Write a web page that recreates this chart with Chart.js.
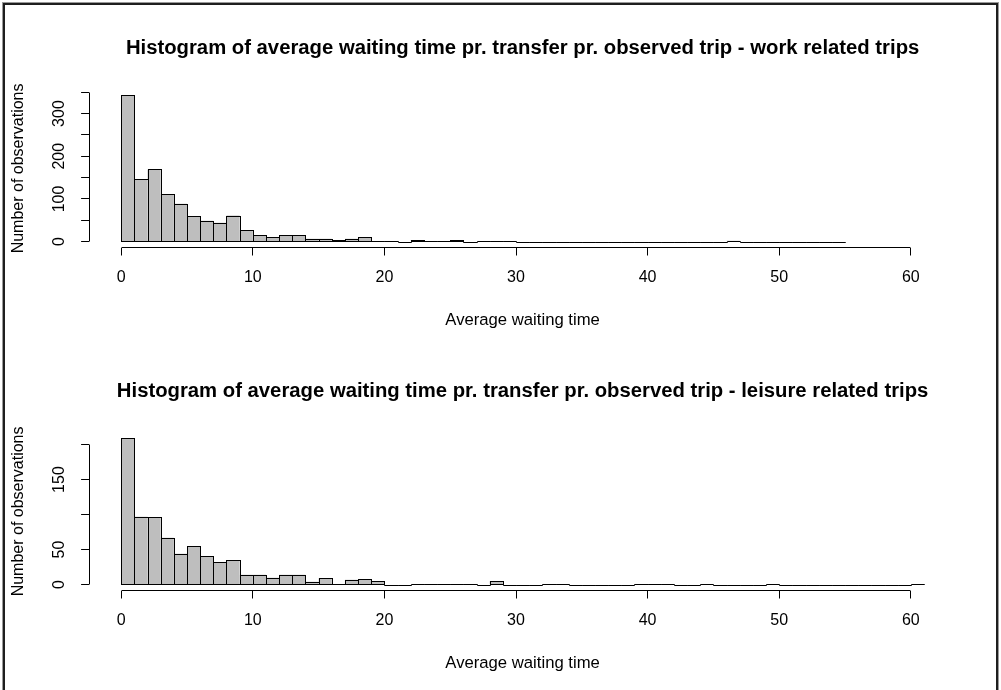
<!DOCTYPE html>
<html>
<head>
<meta charset="utf-8">
<script src="https://cdn.jsdelivr.net/npm/chart.js@4.4.0/dist/chart.umd.min.js"></script>
<style>
  body { margin: 0; background: #fff; }
  #wrap { position: relative; width: 1001px; height: 690px; overflow: hidden; }
  #frame {
    position: absolute; left: 3px; top: 3px; width: 995px; height: 720px;
    box-sizing: border-box; border: 2px solid #1e1e1e; box-shadow: 0 0 0 1px #9a9a9a;
  }
  canvas { position: absolute; left: 0; }
</style>
</head>
<body>
<div id="wrap">
  <div id="frame"></div>
  <canvas id="work" width="1001" height="345" style="top:0"></canvas>
  <canvas id="leisure" width="1001" height="345" style="top:343px"></canvas>
</div>
<script>
// counts per 1-minute bin, first bin is [0,1)
const binWidth = 1;
const workCounts = [
  343, 147, 169, 111, 89, 59, 49, 44, 61, 27,
  15, 10, 15, 15, 7, 7, 4, 7, 10, 1,
  1, 0, 4, 1, 1, 4, 0, 1, 1, 1,
  0, 0, 0, 0, 0, 0, 0, 0, 0, 0,
  0, 0, 0, 0, 0, 0, 2, 0, 0, 0,
  0, 0, 0, 0, 0
];
const leisureCounts = [
  209, 97, 96, 67, 44, 55, 41, 32, 35, 14,
  14, 10, 14, 14, 4, 9, 1, 7, 8, 5,
  0, 0, 1, 1, 1, 1, 1, 0, 5, 0,
  0, 0, 1, 1, 0, 0, 0, 0, 0, 1,
  1, 1, 0, 0, 1, 0, 0, 0, 0, 1,
  0, 0, 0, 0, 0, 0, 0, 0, 0, 0,
  1
];

const xLimits = [0, 61];
const xTicks = [0, 10, 20, 30, 40, 50, 60];
const workYTicks = [0, 50, 100, 150, 200, 250, 300, 350];
const workYLabels = [0, 100, 200, 300];
const leisureYTicks = [0, 50, 100, 150, 200];
const leisureYLabels = [0, 50, 150];

const workTitle = 'Histogram of average waiting time pr. transfer pr. observed trip - work related trips';
const leisureTitle = 'Histogram of average waiting time pr. transfer pr. observed trip - leisure related trips';
const xTitle = 'Average waiting time';
const yTitle = 'Number of observations';

const family = "'Liberation Sans', Arial, sans-serif";

// black outline round every bin, zero-count bins end up as a flat line
const barOutline = {
  id: 'barOutline',
  afterDatasetsDraw(chart) {
    const ctx = chart.ctx;
    ctx.save();
    ctx.strokeStyle = '#000';
    ctx.lineWidth = 1;
    chart.getDatasetMeta(0).data.forEach(bar => {
      const {x, y, base, width} = bar.getProps(['x', 'y', 'base', 'width'], true);
      const l = Math.round(x - width / 2) + 0.5;
      const r = Math.round(x + width / 2) + 0.5;
      const t = Math.round(y) + 0.5;
      const b = Math.round(base) + 0.5;
      ctx.strokeRect(l, t, r - l, b - t);
    });
    ctx.restore();
  }
};

// axis lines only between the first and last tick
const shortAxes = {
  id: 'shortAxes',
  afterDraw(chart) {
    const {ctx, chartArea, scales: {x, y}} = chart;
    const xs = x.ticks, ys = y.ticks;
    const ax = Math.round(chartArea.left - 0.5) + 0.5;
    const ay = Math.round(chartArea.bottom - 0.5) + 0.5;
    ctx.save();
    ctx.strokeStyle = '#000';
    ctx.lineWidth = 1;
    ctx.beginPath();
    ctx.moveTo(Math.round(x.getPixelForValue(xs[0].value) - 0.5) + 0.5, ay);
    ctx.lineTo(Math.round(x.getPixelForValue(xs[xs.length - 1].value) - 0.5) + 0.5, ay);
    ctx.moveTo(ax, Math.round(y.getPixelForValue(ys[0].value) - 0.5) + 0.5);
    ctx.lineTo(ax, Math.round(y.getPixelForValue(ys[ys.length - 1].value) - 0.5) + 0.5);
    ctx.stroke();
    ctx.restore();
  }
};

function histogram(canvasId, title, counts, yTicks, yLabels) {
  const yMax = Math.max(...counts);
  const xSpan = xLimits[1] - xLimits[0];
  return new Chart(document.getElementById(canvasId), {
    type: 'bar',
    data: {
      datasets: [{
        data: counts.map((c, i) => ({x: xLimits[0] + (i + 0.5) * binWidth, y: c})),
        backgroundColor: '#bebebe',
        borderWidth: 0,
        inflateAmount: 0,
        barPercentage: 1,
        categoryPercentage: 1
      }]
    },
    options: {
      responsive: false,
      animation: false,
      events: [],
      layout: {padding: {left: 0, right: 44.9, top: 0, bottom: 0}},
      plugins: {
        legend: {display: false},
        tooltip: {enabled: false},
        title: {
          display: true,
          text: title,
          fullSize: false,
          color: '#000',
          font: {family, size: 20.3, weight: 'bold', lineHeight: 1.2},
          padding: {top: 35.8, bottom: 29.2}
        }
      },
      scales: {
        x: {
          type: 'linear',
          offset: false,
          min: xLimits[0] - 0.04 * xSpan,
          max: xLimits[1] + 0.04 * xSpan,
          afterBuildTicks: s => { s.ticks = xTicks.map(v => ({value: v})); },
          afterFit: s => { s.height = 97.5; },
          grid: {offset: false, drawOnChartArea: false, tickLength: 8, color: '#000', lineWidth: 1},
          border: {display: false},
          ticks: {
            color: '#000', font: {family, size: 16}, padding: 12.9,
            maxRotation: 0, autoSkip: false
          },
          title: {
            display: true, text: xTitle, color: '#000',
            font: {family, size: 16.7, lineHeight: 1.2},
            padding: {top: 0, bottom: 15}
          }
        },
        y: {
          type: 'linear',
          min: -0.04 * yMax,
          max: 1.04 * yMax,
          afterBuildTicks: s => { s.ticks = yTicks.map(v => ({value: v})); },
          afterFit: s => { s.width = 89.1; },
          grid: {drawOnChartArea: false, tickLength: 8, color: '#000', lineWidth: 1},
          border: {display: false},
          ticks: {
            color: '#000', font: {family, size: 16}, padding: 8,
            minRotation: 90, maxRotation: 90, crossAlign: 'center', autoSkip: false,
            callback: v => yLabels.includes(v) ? String(v) : ''
          },
          title: {
            display: true, text: yTitle, color: '#000',
            font: {family, size: 16, lineHeight: 1.2},
            padding: {top: 9.4, bottom: 0}
          }
        }
      }
    },
    plugins: [barOutline, shortAxes]
  });
}

histogram('work', workTitle, workCounts, workYTicks, workYLabels);
histogram('leisure', leisureTitle, leisureCounts, leisureYTicks, leisureYLabels);
</script>
</body>
</html>
